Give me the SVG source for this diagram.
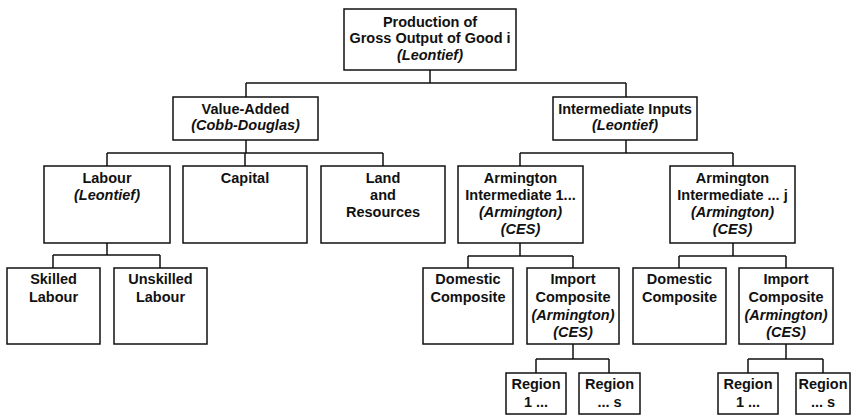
<svg xmlns="http://www.w3.org/2000/svg" width="852" height="416" viewBox="0 0 852 416">
<style>
.box{fill:#fff;stroke:#111;stroke-width:1.5}
.c{fill:none;stroke:#111;stroke-width:1.5}
text{font-family:"Liberation Sans",Arial,sans-serif;font-weight:bold;font-size:14.5px;text-anchor:middle;fill:#111}
.i{font-style:italic}
</style>
<rect width="852" height="416" fill="#fff"/>
<g id="connectors">
<path class="c" d="M430 70V83M246 83H626M246 83V97M626 83V97"/>
<path class="c" d="M246 140V153M107 153H383M107 153V166M245 153V166M383 153V166"/>
<path class="c" d="M107 243V255M53 255H160M53 255V268M160 255V268"/>
<path class="c" d="M626 140V153M520 153H733M520 153V166M733 153V166"/>
<path class="c" d="M520 243V256M468 256H573M468 256V268M573 256V268"/>
<path class="c" d="M733 243V256M679 256H786M679 256V268M786 256V268"/>
<path class="c" d="M573 344V359M536 359H609M536 359V373M609 359V373"/>
<path class="c" d="M786 344V359M748 359H823M748 359V373M823 359V373"/>
</g>
<g id="gross-output"><rect class="box" x="344" y="9" width="172" height="61"/>
<text x="430" y="27">Production of</text><text x="430" y="43">Gross Output of Good i</text><text class="i" x="430" y="60">(Leontief)</text></g>
<g id="value-added"><rect class="box" x="173" y="97" width="145" height="43"/>
<text x="245.5" y="114">Value-Added</text><text class="i" x="245.5" y="130">(Cobb-Douglas)</text></g>
<g id="intermediate-inputs"><rect class="box" x="553" y="97" width="144" height="43"/>
<text x="625" y="114">Intermediate Inputs</text><text class="i" x="625" y="130">(Leontief)</text></g>
<g id="labour"><rect class="box" x="44" y="166" width="126" height="77"/>
<text x="107" y="183">Labour</text><text class="i" x="107" y="200">(Leontief)</text></g>
<g id="capital"><rect class="box" x="183" y="166" width="124" height="77"/>
<text x="245" y="183">Capital</text></g>
<g id="land"><rect class="box" x="321" y="166" width="124" height="77"/>
<text x="383" y="183">Land</text><text x="383" y="200">and</text><text x="383" y="217">Resources</text></g>
<g id="skilled"><rect class="box" x="7" y="268" width="93" height="76"/>
<text x="53.5" y="284">Skilled</text><text x="53.5" y="302">Labour</text></g>
<g id="unskilled"><rect class="box" x="114" y="268" width="93" height="76"/>
<text x="160.5" y="284">Unskilled</text><text x="160.5" y="302">Labour</text></g>
<g id="armington-1"><rect class="box" x="458" y="166" width="125" height="77"/>
<text x="520.5" y="183">Armington</text><text x="520.5" y="200">Intermediate 1...</text><text class="i" x="520.5" y="217">(Armington)</text><text class="i" x="520.5" y="234">(CES)</text></g>
<g id="armington-j"><rect class="box" x="670" y="166" width="125" height="77"/>
<text x="732.5" y="183">Armington</text><text x="732.5" y="200">Intermediate ... j</text><text class="i" x="732.5" y="217">(Armington)</text><text class="i" x="732.5" y="234">(CES)</text></g>
<g id="domestic-1"><rect class="box" x="423" y="268" width="90" height="76"/>
<text x="468" y="284">Domestic</text><text x="468" y="302">Composite</text></g>
<g id="import-1"><rect class="box" x="527" y="268" width="92" height="76"/>
<text x="573" y="284">Import</text><text x="573" y="302">Composite</text><text class="i" x="573" y="320">(Armington)</text><text class="i" x="573" y="337">(CES)</text></g>
<g id="domestic-j"><rect class="box" x="633" y="268" width="93" height="76"/>
<text x="679.5" y="284">Domestic</text><text x="679.5" y="302">Composite</text></g>
<g id="import-j"><rect class="box" x="739" y="268" width="94" height="76"/>
<text x="786" y="284">Import</text><text x="786" y="302">Composite</text><text class="i" x="786" y="320">(Armington)</text><text class="i" x="786" y="337">(CES)</text></g>
<g id="region-1-a"><rect class="box" x="506" y="373" width="60" height="41"/>
<text x="536" y="389">Region</text><text x="536" y="407">1 ...</text></g>
<g id="region-s-a"><rect class="box" x="579" y="373" width="61" height="41"/>
<text x="609.5" y="389">Region</text><text x="609.5" y="407">... s</text></g>
<g id="region-1-b"><rect class="box" x="718" y="373" width="60" height="41"/>
<text x="748" y="389">Region</text><text x="748" y="407">1 ...</text></g>
<g id="region-s-b"><rect class="box" x="796" y="373" width="54" height="41"/>
<text x="823" y="389">Region</text><text x="823" y="407">... s</text></g>
</svg>
